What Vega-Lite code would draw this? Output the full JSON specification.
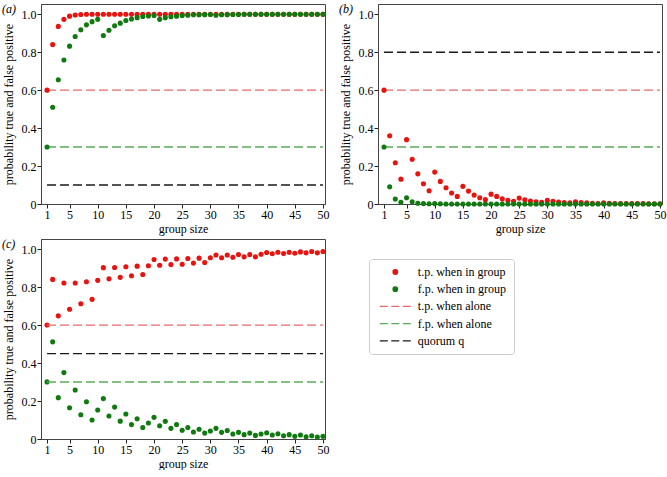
{
  "$schema": "https://vega.github.io/schema/vega-lite/v6.json",
  "padding": {"left": 1, "top": 2, "right": 2, "bottom": 0},
  "background": "white",
  "datasets": {
    "pts": [
      {"p":"a","n":1,"tp":0.6,"fp":0.3},{"p":"a","n":2,"tp":0.84,"fp":0.51},{"p":"a","n":3,"tp":0.936,"fp":0.655},{"p":"a","n":4,"tp":0.973,"fp":0.759},{"p":"a","n":5,"tp":0.99,"fp":0.832},
      {"p":"a","n":6,"tp":0.996,"fp":0.883},{"p":"a","n":7,"tp":0.999,"fp":0.918},{"p":"a","n":8,"tp":1.0,"fp":0.944},{"p":"a","n":9,"tp":1.0,"fp":0.961},{"p":"a","n":10,"tp":1.0,"fp":0.973},
      {"p":"a","n":11,"tp":1.0,"fp":0.888},{"p":"a","n":12,"tp":1.0,"fp":0.916},{"p":"a","n":13,"tp":1.0,"fp":0.939},{"p":"a","n":14,"tp":1.0,"fp":0.953},{"p":"a","n":15,"tp":1.0,"fp":0.967},
      {"p":"a","n":16,"tp":1.0,"fp":0.975},{"p":"a","n":17,"tp":1.0,"fp":0.982},{"p":"a","n":18,"tp":1.0,"fp":0.988},{"p":"a","n":19,"tp":1.0,"fp":0.991},{"p":"a","n":20,"tp":1.0,"fp":0.993},
      {"p":"a","n":21,"tp":1.0,"fp":0.973},{"p":"a","n":22,"tp":1.0,"fp":0.982},{"p":"a","n":23,"tp":1.0,"fp":0.987},{"p":"a","n":24,"tp":1.0,"fp":0.99},{"p":"a","n":25,"tp":1.0,"fp":0.993},
      {"p":"a","n":26,"tp":1.0,"fp":0.995},{"p":"a","n":27,"tp":1.0,"fp":0.997},{"p":"a","n":28,"tp":1.0,"fp":0.998},{"p":"a","n":29,"tp":1.0,"fp":0.998},{"p":"a","n":30,"tp":1.0,"fp":0.999},
      {"p":"a","n":31,"tp":1.0,"fp":0.995},{"p":"a","n":32,"tp":1.0,"fp":0.997},{"p":"a","n":33,"tp":1.0,"fp":0.998},{"p":"a","n":34,"tp":1.0,"fp":0.999},{"p":"a","n":35,"tp":1.0,"fp":0.999},
      {"p":"a","n":36,"tp":1.0,"fp":1.0},{"p":"a","n":37,"tp":1.0,"fp":1.0},{"p":"a","n":38,"tp":1.0,"fp":1.0},{"p":"a","n":39,"tp":1.0,"fp":1.0},{"p":"a","n":40,"tp":1.0,"fp":1.0},
      {"p":"a","n":41,"tp":1.0,"fp":1.0},{"p":"a","n":42,"tp":1.0,"fp":1.0},{"p":"a","n":43,"tp":1.0,"fp":1.0},{"p":"a","n":44,"tp":1.0,"fp":1.0},{"p":"a","n":45,"tp":1.0,"fp":1.0},
      {"p":"a","n":46,"tp":1.0,"fp":1.0},{"p":"a","n":47,"tp":1.0,"fp":1.0},{"p":"a","n":48,"tp":1.0,"fp":1.0},{"p":"a","n":49,"tp":1.0,"fp":1.0},{"p":"a","n":50,"tp":1.0,"fp":1.0},

      {"p":"b","n":1,"tp":0.6,"fp":0.3},{"p":"b","n":2,"tp":0.36,"fp":0.091},{"p":"b","n":3,"tp":0.217,"fp":0.026},{"p":"b","n":4,"tp":0.131,"fp":0.009},{"p":"b","n":5,"tp":0.339,"fp":0.033},
      {"p":"b","n":6,"tp":0.236,"fp":0.012},{"p":"b","n":7,"tp":0.159,"fp":0.004},{"p":"b","n":8,"tp":0.107,"fp":0.002},{"p":"b","n":9,"tp":0.07,"fp":0.001},{"p":"b","n":10,"tp":0.168,"fp":0.002},
      {"p":"b","n":11,"tp":0.119,"fp":0.001},{"p":"b","n":12,"tp":0.086,"fp":0.0},{"p":"b","n":13,"tp":0.058,"fp":0.0},{"p":"b","n":14,"tp":0.04,"fp":0.0},{"p":"b","n":15,"tp":0.093,"fp":0.0},
      {"p":"b","n":16,"tp":0.068,"fp":0.0},{"p":"b","n":17,"tp":0.047,"fp":0.0},{"p":"b","n":18,"tp":0.033,"fp":0.0},{"p":"b","n":19,"tp":0.023,"fp":0.0},{"p":"b","n":20,"tp":0.052,"fp":0.0},
      {"p":"b","n":21,"tp":0.04,"fp":0.0},{"p":"b","n":22,"tp":0.027,"fp":0.0},{"p":"b","n":23,"tp":0.019,"fp":0.0},{"p":"b","n":24,"tp":0.014,"fp":0.0},{"p":"b","n":25,"tp":0.031,"fp":0.0},
      {"p":"b","n":26,"tp":0.022,"fp":0.0},{"p":"b","n":27,"tp":0.016,"fp":0.0},{"p":"b","n":28,"tp":0.012,"fp":0.0},{"p":"b","n":29,"tp":0.009,"fp":0.0},{"p":"b","n":30,"tp":0.019,"fp":0.0},
      {"p":"b","n":31,"tp":0.014,"fp":0.0},{"p":"b","n":32,"tp":0.01,"fp":0.0},{"p":"b","n":33,"tp":0.008,"fp":0.0},{"p":"b","n":34,"tp":0.006,"fp":0.0},{"p":"b","n":35,"tp":0.011,"fp":0.0},
      {"p":"b","n":36,"tp":0.008,"fp":0.0},{"p":"b","n":37,"tp":0.006,"fp":0.0},{"p":"b","n":38,"tp":0.004,"fp":0.0},{"p":"b","n":39,"tp":0.003,"fp":0.0},{"p":"b","n":40,"tp":0.006,"fp":0.0},
      {"p":"b","n":41,"tp":0.004,"fp":0.0},{"p":"b","n":42,"tp":0.003,"fp":0.0},{"p":"b","n":43,"tp":0.002,"fp":0.0},{"p":"b","n":44,"tp":0.002,"fp":0.0},{"p":"b","n":45,"tp":0.003,"fp":0.0},
      {"p":"b","n":46,"tp":0.002,"fp":0.0},{"p":"b","n":47,"tp":0.002,"fp":0.0},{"p":"b","n":48,"tp":0.001,"fp":0.0},{"p":"b","n":49,"tp":0.001,"fp":0.0},{"p":"b","n":50,"tp":0.001,"fp":0.0},

      {"p":"c","n":1,"tp":0.601,"fp":0.301},{"p":"c","n":2,"tp":0.841,"fp":0.512},{"p":"c","n":3,"tp":0.649,"fp":0.218},{"p":"c","n":4,"tp":0.822,"fp":0.35},{"p":"c","n":5,"tp":0.684,"fp":0.165},
      {"p":"c","n":6,"tp":0.822,"fp":0.258},{"p":"c","n":7,"tp":0.713,"fp":0.128},{"p":"c","n":8,"tp":0.829,"fp":0.196},{"p":"c","n":9,"tp":0.736,"fp":0.1},{"p":"c","n":10,"tp":0.836,"fp":0.153},
      {"p":"c","n":11,"tp":0.903,"fp":0.213},{"p":"c","n":12,"tp":0.844,"fp":0.121},{"p":"c","n":13,"tp":0.904,"fp":0.168},{"p":"c","n":14,"tp":0.852,"fp":0.094},{"p":"c","n":15,"tp":0.908,"fp":0.132},
      {"p":"c","n":16,"tp":0.86,"fp":0.076},{"p":"c","n":17,"tp":0.911,"fp":0.107},{"p":"c","n":18,"tp":0.867,"fp":0.061},{"p":"c","n":19,"tp":0.913,"fp":0.084},{"p":"c","n":20,"tp":0.946,"fp":0.114},
      {"p":"c","n":21,"tp":0.916,"fp":0.07},{"p":"c","n":22,"tp":0.948,"fp":0.093},{"p":"c","n":23,"tp":0.919,"fp":0.056},{"p":"c","n":24,"tp":0.949,"fp":0.076},{"p":"c","n":25,"tp":0.921,"fp":0.046},
      {"p":"c","n":26,"tp":0.951,"fp":0.061},{"p":"c","n":27,"tp":0.927,"fp":0.037},{"p":"c","n":28,"tp":0.953,"fp":0.051},{"p":"c","n":29,"tp":0.93,"fp":0.031},{"p":"c","n":30,"tp":0.955,"fp":0.042},
      {"p":"c","n":31,"tp":0.97,"fp":0.056},{"p":"c","n":32,"tp":0.955,"fp":0.035},{"p":"c","n":33,"tp":0.97,"fp":0.045},{"p":"c","n":34,"tp":0.958,"fp":0.026},{"p":"c","n":35,"tp":0.972,"fp":0.035},
      {"p":"c","n":36,"tp":0.96,"fp":0.023},{"p":"c","n":37,"tp":0.972,"fp":0.031},{"p":"c","n":38,"tp":0.96,"fp":0.019},{"p":"c","n":39,"tp":0.974,"fp":0.026},{"p":"c","n":40,"tp":0.983,"fp":0.033},
      {"p":"c","n":41,"tp":0.976,"fp":0.021},{"p":"c","n":42,"tp":0.984,"fp":0.028},{"p":"c","n":43,"tp":0.977,"fp":0.017},{"p":"c","n":44,"tp":0.984,"fp":0.023},{"p":"c","n":45,"tp":0.979,"fp":0.014},
      {"p":"c","n":46,"tp":0.986,"fp":0.021},{"p":"c","n":47,"tp":0.981,"fp":0.012},{"p":"c","n":48,"tp":0.988,"fp":0.017},{"p":"c","n":49,"tp":0.981,"fp":0.01},{"p":"c","n":50,"tp":0.988,"fp":0.014}
    ],
    "lines": [
      {"p":"a","s":"tpa","n":1,"v":0.6},{"p":"a","s":"tpa","n":50,"v":0.6},{"p":"a","s":"fpa","n":1,"v":0.3},{"p":"a","s":"fpa","n":50,"v":0.3},{"p":"a","s":"q","n":1,"v":0.1},{"p":"a","s":"q","n":50,"v":0.1},
      {"p":"b","s":"tpa","n":1,"v":0.6},{"p":"b","s":"tpa","n":50,"v":0.6},{"p":"b","s":"fpa","n":1,"v":0.3},{"p":"b","s":"fpa","n":50,"v":0.3},{"p":"b","s":"q","n":1,"v":0.8},{"p":"b","s":"q","n":50,"v":0.8},
      {"p":"c","s":"tpa","n":1,"v":0.6},{"p":"c","s":"tpa","n":50,"v":0.6},{"p":"c","s":"fpa","n":1,"v":0.3},{"p":"c","s":"fpa","n":50,"v":0.3},{"p":"c","s":"q","n":1,"v":0.45},{"p":"c","s":"q","n":50,"v":0.45}
    ]
  },
  "vconcat": [
    {
      "hconcat": [
        {
          "width": 284, "height": 200,
          "title": {"text": "(a)"},
          "encoding": {
            "x": {"field": "n", "type": "quantitative", "scale": {"domain": [-0.07, 50.36], "nice": false, "zero": false}, "axis": {"values": [1,5,10,15,20,25,30,35,40,45,50], "labelOverlap": false, "title": "group size"}},
            "y": {"field": "v", "type": "quantitative", "scale": {"domain": [0, 1.054], "nice": false}, "axis": {"values": [0,0.2,0.4,0.6,0.8,1.0], "labelOverlap": false, "labelExpr": "datum.value==0?'0':format(datum.value,'.1f')", "title": "probability true and false positive"}},
            "color": {"field": "s", "type": "nominal", "legend": null, "scale": {"domain": ["tp","fp","tpa","fpa","q"], "range": ["#e8120f","#107a10","#e46a6a","#5aac5a","#1a1a1a"]}}
          },
          "layer": [
            {"data": {"name": "lines"}, "transform": [{"filter": "datum.p=='a'"}],
             "mark": {"type": "line", "strokeDash": [9, 4], "strokeWidth": 1.4}, "encoding": {}},
            {"data": {"name": "pts"}, "transform": [{"filter": "datum.p=='a'"}, {"fold": ["tp", "fp"], "as": ["s", "v"]}],
             "mark": {"type": "point", "filled": true, "size": 26, "opacity": 1}, "encoding": {}}
          ]
        },
        {
          "width": 284, "height": 200,
          "title": {"text": "(b)"},
          "encoding": {
            "x": {"field": "n", "type": "quantitative", "scale": {"domain": [-0.07, 50.36], "nice": false, "zero": false}, "axis": {"values": [1,5,10,15,20,25,30,35,40,45,50], "labelOverlap": false, "title": "group size"}},
            "y": {"field": "v", "type": "quantitative", "scale": {"domain": [0, 1.054], "nice": false}, "axis": {"values": [0,0.2,0.4,0.6,0.8,1.0], "labelOverlap": false, "labelExpr": "datum.value==0?'0':format(datum.value,'.1f')", "title": "probability true and false positive"}},
            "color": {"field": "s", "type": "nominal", "legend": null, "scale": {"domain": ["tp","fp","tpa","fpa","q"], "range": ["#e8120f","#107a10","#e46a6a","#5aac5a","#1a1a1a"]}}
          },
          "layer": [
            {"data": {"name": "lines"}, "transform": [{"filter": "datum.p=='b'"}],
             "mark": {"type": "line", "strokeDash": [9, 4], "strokeWidth": 1.4}, "encoding": {}},
            {"data": {"name": "pts"}, "transform": [{"filter": "datum.p=='b'"}, {"fold": ["tp", "fp"], "as": ["s", "v"]}],
             "mark": {"type": "point", "filled": true, "size": 26, "opacity": 1}, "encoding": {}}
          ]
        }
      ],
      "spacing": 8,
      "resolve": {"scale": {"color": "independent"}}
    },
    {
      "width": 284, "height": 200,
      "title": {"text": "(c)"},
      "encoding": {
        "x": {"field": "n", "type": "quantitative", "scale": {"domain": [-0.07, 50.36], "nice": false, "zero": false}, "axis": {"values": [1,5,10,15,20,25,30,35,40,45,50], "labelOverlap": false, "title": "group size"}},
        "y": {"field": "v", "type": "quantitative", "scale": {"domain": [0, 1.054], "nice": false}, "axis": {"values": [0,0.2,0.4,0.6,0.8,1.0], "labelOverlap": false, "labelExpr": "datum.value==0?'0':format(datum.value,'.1f')", "title": "probability true and false positive"}},
        "color": {"field": "s", "type": "nominal", "scale": {"domain": ["tp","fp","tpa","fpa","q"], "range": ["#e8120f","#107a10","#e46a6a","#5aac5a","#1a1a1a"]},
          "legend": {
            "orient": "none", "legendX": 328, "legendY": 20, "title": null,
            "strokeColor": "#cccccc", "fillColor": "white", "cornerRadius": 3, "padding": 7,
            "symbolSize": 20, "symbolStrokeWidth": 1.3, "symbolOffset": 13.3, "labelOffset": 16.5, "rowPadding": 5.2,
            "labelExpr": "datum.value=='tp'?'t.p. when in group':datum.value=='fp'?'f.p. when in group':datum.value=='tpa'?'t.p. when alone':datum.value=='fpa'?'f.p. when alone':'quorum q'"
          }}
      },
      "layer": [
        {"data": {"name": "pts"}, "transform": [{"filter": "datum.p=='c'"}, {"fold": ["tp", "fp"], "as": ["s", "v"]}],
         "mark": {"type": "point", "filled": true, "size": 26, "opacity": 1},
         "encoding": {
           "shape": {"field": "s", "type": "nominal",
             "scale": {"domain": ["tp","fp","tpa","fpa","q"], "range": ["circle","circle","M-6.93,0H-3.35M-1.79,0H1.79M3.35,0H6.93","M-6.93,0H-3.35M-1.79,0H1.79M3.35,0H6.93","M-6.93,0H-3.35M-1.79,0H1.79M3.35,0H6.93"]},
             "legend": {
               "orient": "none", "legendX": 328, "legendY": 20, "title": null,
               "strokeColor": "#cccccc", "fillColor": "white", "cornerRadius": 3, "padding": 7,
               "symbolSize": 20, "symbolStrokeWidth": 1.3, "symbolOffset": 13.3, "labelOffset": 16.5, "rowPadding": 5.2,
               "labelExpr": "datum.value=='tp'?'t.p. when in group':datum.value=='fp'?'f.p. when in group':datum.value=='tpa'?'t.p. when alone':datum.value=='fpa'?'f.p. when alone':'quorum q'"
             }}
         }},
        {"data": {"name": "lines"}, "transform": [{"filter": "datum.p=='c'"}],
         "mark": {"type": "line", "strokeDash": [9, 4], "strokeWidth": 1.4}, "encoding": {}}
      ]
    }
  ],
  "spacing": 2,
  "resolve": {"scale": {"color": "independent", "shape": "independent"}},
  "config": {
    "font": "Liberation Serif",
    "axis": {"labelFont": "Liberation Serif", "labelFontSize": 12, "titleFont": "Liberation Serif", "titleFontSize": 12, "titleFontWeight": "normal",
             "labelColor": "#000", "titleColor": "#000", "domainColor": "#444", "tickColor": "#222", "tickSize": 4, "grid": false,
             "labelPadding": 1, "titlePadding": 3, "labelFlush": false, "labelOverlap": false},
    "axisY": {"titlePadding": 6},
    "view": {"stroke": "#444"},
    "legend": {"labelFont": "Liberation Serif", "labelFontSize": 12, "labelColor": "#000"},
    "title": {"font": "Liberation Serif", "fontSize": 12, "fontWeight": "normal", "fontStyle": "italic", "anchor": "start", "frame": "bounds", "offset": -12, "color": "#000"}
  }
}
